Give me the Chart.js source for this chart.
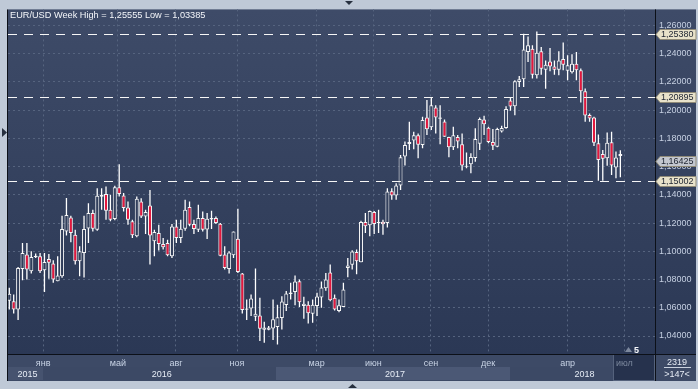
<!DOCTYPE html>
<html>
<head>
<meta charset="utf-8">
<script src="https://cdn.jsdelivr.net/npm/chart.js@4.4.0/dist/chart.umd.min.js"></script>
<style>
  html, body { margin: 0; padding: 0; background: #bfc9d7; }
  canvas { display: block; }
</style>
</head>
<body>
<canvas id="chart" width="698" height="389"></canvas>
<script>
// EUR/USD, недельные свечи (140 шт.)
const opens = [
  1.0650, 1.0647, 1.0588, 1.0875, 1.0977, 1.0859, 1.0958, 1.0965, 1.0866, 1.0946,
  1.0913, 1.0788, 1.0824, 1.1141, 1.1240, 1.1118, 1.0929, 1.0988, 1.1162, 1.1271,
  1.1153, 1.1386, 1.1405, 1.1294, 1.1228, 1.1454, 1.1395, 1.1311, 1.1212, 1.1106,
  1.1353, 1.1247, 1.1325, 1.1071, 1.1129, 1.1052, 1.1059, 1.0965, 1.1176, 1.1094,
  1.1160, 1.1313, 1.1193, 1.1153, 1.1235, 1.1155, 1.1226, 1.1235, 1.1195, 1.0977,
  1.0875, 1.0972, 1.1089, 1.0842, 1.0586, 1.0595, 1.0537, 1.0546, 1.0445, 1.0445,
  1.0454, 1.0464, 1.0527, 1.0619, 1.0697, 1.0711, 1.0788, 1.0612, 1.0621, 1.0558,
  1.0612, 1.0673, 1.0739, 1.0849, 1.0671, 1.0577, 1.0605, 1.0882, 1.0904, 1.0995,
  1.0922, 1.1207, 1.1184, 1.1278, 1.1200, 1.1209, 1.1200, 1.1426, 1.1395, 1.1466,
  1.1671, 1.1760, 1.1784, 1.1821, 1.1753, 1.1948, 1.1878, 1.2019, 1.1939, 1.1920,
  1.1809, 1.1737, 1.1809, 1.1758, 1.1598, 1.1617, 1.1661, 1.1762, 1.1934, 1.1875,
  1.1774, 1.1741, 1.1849, 1.1873, 1.2068, 1.2027, 1.2199, 1.2218, 1.2411, 1.2435,
  1.2246, 1.2416, 1.2286, 1.2345, 1.2308, 1.2286, 1.2362, 1.2278, 1.2268, 1.2329,
  1.2282, 1.2134, 1.1965, 1.1948, 1.1765, 1.1689, 1.1659, 1.1772, 1.1593, 1.1675
];
const highs = [
  1.0741, 1.0694, 1.0889, 1.1059, 1.1059, 1.1000, 1.0984, 1.0988, 1.0988, 1.0981,
  1.0937, 1.0965, 1.1252, 1.1377, 1.1252, 1.1153, 1.1035, 1.1252, 1.1341, 1.1294,
  1.1447, 1.1447, 1.1459, 1.1400, 1.1464, 1.1616, 1.1412, 1.1353, 1.1224, 1.1388,
  1.1376, 1.1294, 1.1435, 1.1153, 1.1188, 1.1094, 1.1082, 1.1193, 1.1224, 1.1224,
  1.1365, 1.1353, 1.1224, 1.1329, 1.1282, 1.1271, 1.1287, 1.1247, 1.1200, 1.1035,
  1.1000, 1.1141, 1.1301, 1.0847, 1.0659, 1.0694, 1.0878, 1.0671, 1.0501, 1.0471,
  1.0659, 1.0621, 1.0682, 1.0718, 1.0777, 1.0828, 1.0800, 1.0678, 1.0647, 1.0659,
  1.0706, 1.0786, 1.0847, 1.0906, 1.0694, 1.0659, 1.0777, 1.0953, 1.1007, 1.1012,
  1.1217, 1.1271, 1.1289, 1.1285, 1.1294, 1.1224, 1.1447, 1.1447, 1.1482, 1.1682,
  1.1777, 1.1918, 1.1847, 1.1835, 1.1953, 1.2071, 1.2089, 1.2035, 1.2035, 1.1934,
  1.1812, 1.1882, 1.1824, 1.1835, 1.1699, 1.1694, 1.1871, 1.1948, 1.1960, 1.1882,
  1.1866, 1.1875, 1.1889, 1.2028, 1.2089, 1.2212, 1.2242, 1.2541, 1.2522, 1.2459,
  1.2556, 1.2447, 1.2352, 1.2440, 1.2352, 1.2416, 1.2478, 1.2388, 1.2395, 1.2412,
  1.2294, 1.2153, 1.1976, 1.1953, 1.1828, 1.1718, 1.1842, 1.1847, 1.1706, 1.1716
];
const lows = [
  1.0588, 1.0560, 1.0513, 1.0795, 1.0800, 1.0842, 1.0953, 1.0847, 1.0711, 1.0805,
  1.0777, 1.0788, 1.0812, 1.1111, 1.1064, 1.0906, 1.0824, 1.0814, 1.1059, 1.1141,
  1.1146, 1.1294, 1.1224, 1.1212, 1.1219, 1.1388, 1.1282, 1.1188, 1.1094, 1.1099,
  1.1235, 1.1122, 1.0906, 1.0965, 1.1005, 1.1012, 1.0965, 1.0953, 1.1059, 1.1059,
  1.1146, 1.1177, 1.1122, 1.1137, 1.1141, 1.1087, 1.1158, 1.1193, 1.0965, 1.0871,
  1.0842, 1.0953, 1.0847, 1.0560, 1.0513, 1.0541, 1.0506, 1.0365, 1.0353, 1.0440,
  1.0372, 1.0339, 1.0447, 1.0577, 1.0659, 1.0617, 1.0605, 1.0522, 1.0489, 1.0494,
  1.0541, 1.0600, 1.0720, 1.0647, 1.0581, 1.0569, 1.0605, 1.0817, 1.0871, 1.0838,
  1.0922, 1.1129, 1.1106, 1.1122, 1.1129, 1.1118, 1.1169, 1.1365, 1.1365, 1.1435,
  1.1607, 1.1718, 1.1722, 1.1659, 1.1729, 1.1824, 1.1859, 1.1835, 1.1759, 1.1812,
  1.1666, 1.1718, 1.1729, 1.1572, 1.1588, 1.1553, 1.1635, 1.1718, 1.1824, 1.1765,
  1.1718, 1.1737, 1.1842, 1.1868, 1.1995, 1.1963, 1.2164, 1.2164, 1.2341, 1.2223,
  1.2223, 1.2251, 1.2152, 1.2275, 1.2251, 1.2246, 1.2282, 1.2212, 1.2259, 1.2212,
  1.2054, 1.1918, 1.1918, 1.1746, 1.1500, 1.1500, 1.1605, 1.1541, 1.1518, 1.1525
];
const closes = [
  1.0700, 1.0588, 1.0882, 1.0988, 1.0871, 1.0960, 1.0969, 1.0859, 1.0925, 1.0918,
  1.0800, 1.0828, 1.1158, 1.1257, 1.1130, 1.0929, 1.1000, 1.1158, 1.1271, 1.1160,
  1.1393, 1.1400, 1.1287, 1.1224, 1.1454, 1.1405, 1.1306, 1.1224, 1.1113, 1.1372,
  1.1247, 1.1278, 1.1111, 1.1136, 1.1052, 1.1028, 1.0972, 1.1176, 1.1094, 1.1160,
  1.1294, 1.1188, 1.1158, 1.1235, 1.1153, 1.1231, 1.1235, 1.1200, 1.0969, 1.0882,
  1.0991, 1.1141, 1.0854, 1.0584, 1.0595, 1.0666, 1.0558, 1.0452, 1.0461, 1.0461,
  1.0518, 1.0532, 1.0645, 1.0701, 1.0708, 1.0786, 1.0640, 1.0628, 1.0562, 1.0621,
  1.0680, 1.0744, 1.0800, 1.0654, 1.0588, 1.0617, 1.0729, 1.0899, 1.0998, 1.0929,
  1.1207, 1.1177, 1.1285, 1.1193, 1.1207, 1.1191, 1.1424, 1.1395, 1.1466, 1.1666,
  1.1753, 1.1774, 1.1821, 1.1755, 1.1929, 1.1864, 1.2035, 1.1948, 1.1948, 1.1812,
  1.1737, 1.1821, 1.1777, 1.1607, 1.1605, 1.1668, 1.1795, 1.1937, 1.1899, 1.1774,
  1.1748, 1.1866, 1.1873, 1.2007, 1.2026, 1.2204, 1.2218, 1.2430, 1.2459, 1.2251,
  1.2407, 1.2293, 1.2322, 1.2308, 1.2286, 1.2352, 1.2322, 1.2318, 1.2329, 1.2282,
  1.2134, 1.1962, 1.1941, 1.1769, 1.1647, 1.1656, 1.1769, 1.1607, 1.1664, 1.1689
];

// ось времени (номер свечи)
const monthIdx = [8.7, 25.7, 38.9, 52.8, 70.9, 83.8, 96.9, 109.9, 128.0, 140.9];
const monthLabels = ['янв', 'май', 'авг', 'ноя', 'мар', 'июн', 'сен', 'дек', 'апр', 'июл'];
const yearLabels = ['2015', '2016', '2017', '2018'];
const yearStartIdx = [0.7, 8.7, 61.7, 114.9];

// ценовая ось
const yTicks = [1.04, 1.06, 1.08, 1.10, 1.12, 1.14, 1.16, 1.18, 1.20, 1.22, 1.24, 1.26];
const levelLines = [1.25380, 1.20895, 1.15002];
const lastPrice = 1.16425;

const titleText = 'EUR/USD Week High = 1,25555 Low = 1,03385';
const barsTotal = '2319';
const barsVisible = '>147<';
const markerText = '5';

const RED = '#e3173d';
const WHITE = '#f6f6f6';
const FONT = "'Liberation Sans', Arial, sans-serif";

const weeks = opens.map((_, i) => i + 1);
const bodies = weeks.map((w, k) => ({ x: w, y: [Math.min(opens[k], closes[k]), Math.max(opens[k], closes[k])] }));
const wicks = weeks.map((w, k) => ({ x: w, y: [lows[k], highs[k]] }));

let gradCache = null;
function plotGradient(chart) {
    const area = chart.chartArea;
    if (!area) return '#36435f';
    if (gradCache && gradCache.top === area.top && gradCache.bottom === area.bottom) return gradCache.g;
    const g = chart.ctx.createLinearGradient(0, area.top, 0, area.bottom);
    g.addColorStop(0, '#3e4b68');
    g.addColorStop(1, '#2b3855');
    gradCache = { top: area.top, bottom: area.bottom, g: g };
    return g;
}

function fmt(v) {
    return v.toFixed(5).replace('.', ',');
}

function drawTag(ctx, y, text, fill) {
    const c = Math.round(y) + 0.5;
    ctx.beginPath();
    ctx.moveTo(656, c);
    ctx.lineTo(660, c - 5);
    ctx.lineTo(696, c - 5);
    ctx.lineTo(696, c + 5);
    ctx.lineTo(660, c + 5);
    ctx.closePath();
    ctx.fillStyle = fill;
    ctx.fill();
    ctx.strokeStyle = '#8f8a78';
    ctx.lineWidth = 1;
    ctx.stroke();
    ctx.fillStyle = '#1d2330';
    ctx.font = '9px ' + FONT;
    ctx.textAlign = 'left';
    ctx.textBaseline = 'middle';
    ctx.fillText(text, 661, c + 0.5);
}

function tri(ctx, pts, color) {
    ctx.beginPath();
    ctx.moveTo(pts[0][0], pts[0][1]);
    ctx.lineTo(pts[1][0], pts[1][1]);
    ctx.lineTo(pts[2][0], pts[2][1]);
    ctx.closePath();
    ctx.fillStyle = color;
    ctx.fill();
}

// фон, панели, подписи
const framePlugin = {
    id: 'frame',
    beforeDraw(chart) {
        const ctx = chart.ctx;
        const a = chart.chartArea;
        const xs = chart.scales.x;
        ctx.save();
        ctx.fillStyle = '#bfc9d7';
        ctx.fillRect(0, 0, chart.width, chart.height);
        // область графика и правая шкала
        ctx.fillStyle = plotGradient(chart);
        ctx.fillRect(a.left, a.top, 696 - a.left, a.bottom - a.top);
        // нижняя панель
        ctx.fillStyle = '#3d4a66';
        ctx.fillRect(a.left, a.bottom, 696 - a.left, 381 - a.bottom);
        // годы
        const yearColors = ['#46536f', '#3c4965', '#4b5875', '#3c4965'];
        yearLabels.forEach((lbl, k) => {
            const x0 = Math.max(a.left, xs.getPixelForValue(yearStartIdx[k]));
            const x1 = k + 1 < yearLabels.length ? xs.getPixelForValue(yearStartIdx[k + 1]) : a.right;
            ctx.fillStyle = yearColors[k];
            ctx.fillRect(Math.round(x0), 367, Math.round(x1) - Math.round(x0), 13);
        });
        // будущий месяц
        const xFut = Math.round(xs.getPixelForValue(monthIdx[monthIdx.length - 1])) - 11;
        ctx.fillStyle = '#26324d';
        ctx.fillRect(xFut, a.bottom, a.right - xFut, 381 - a.bottom);
        ctx.strokeStyle = '#55627c';
        ctx.strokeRect(xFut + 0.5, a.bottom + 0.5, a.right - xFut - 1, 381 - a.bottom - 1);
        ctx.restore();
    },
    afterDatasetsDraw(chart) {
        const ctx = chart.ctx;
        const a = chart.chartArea;
        const ys = chart.scales.y;
        ctx.save();
        ctx.strokeStyle = WHITE;
        ctx.lineWidth = 1;
        ctx.setLineDash([9, 7]);
        levelLines.forEach(v => {
            const y = Math.round(ys.getPixelForValue(v)) + 0.5;
            ctx.beginPath();
            ctx.moveTo(a.left, y);
            ctx.lineTo(a.right, y);
            ctx.stroke();
        });
        ctx.restore();
    },
    afterDraw(chart) {
        const ctx = chart.ctx;
        const a = chart.chartArea;
        const xs = chart.scales.x;
        const ys = chart.scales.y;
        ctx.save();
        // разделители
        ctx.strokeStyle = '#0c1018';
        ctx.lineWidth = 1;
        ctx.beginPath();
        ctx.moveTo(a.left, a.bottom + 0.5);
        ctx.lineTo(696, a.bottom + 0.5);
        ctx.moveTo(a.right + 0.5, a.top);
        ctx.lineTo(a.right + 0.5, 381);
        ctx.moveTo(a.left - 0.5, a.top);
        ctx.lineTo(a.left - 0.5, 381);
        ctx.stroke();

        // ярлыки уровней
        levelLines.forEach(v => drawTag(ctx, ys.getPixelForValue(v), fmt(v), '#e8e2ca'));
        drawTag(ctx, ys.getPixelForValue(lastPrice), fmt(lastPrice), '#c3c7cf');

        // заголовок
        ctx.font = '9.2px ' + FONT;
        ctx.fillStyle = '#f4f6fa';
        ctx.textAlign = 'left';
        ctx.textBaseline = 'alphabetic';
        ctx.fillText(titleText, 10, 18);

        // годы
        ctx.font = '9px ' + FONT;
        ctx.fillStyle = '#e6ecf5';
        ctx.textAlign = 'center';
        yearLabels.forEach((lbl, k) => {
            const x0 = Math.max(a.left, xs.getPixelForValue(yearStartIdx[k]));
            const x1 = k + 1 < yearLabels.length ? xs.getPixelForValue(yearStartIdx[k + 1]) : a.right;
            ctx.fillText(lbl, (x0 + x1) / 2 + 2, 377);
        });

        // счётчик баров
        ctx.fillText(barsTotal, 677, 365);
        ctx.fillText(barsVisible, 677, 377);
        ctx.strokeStyle = '#c9d1de';
        ctx.beginPath();
        ctx.moveTo(664, 367.5);
        ctx.lineTo(691, 367.5);
        ctx.stroke();

        // маркер
        tri(ctx, [[625, 352], [632, 352], [628.5, 347]], '#7d899e');
        ctx.font = 'bold 9px ' + FONT;
        ctx.fillStyle = '#f4f6fa';
        ctx.textAlign = 'left';
        ctx.fillText(markerText, 634, 353);

        // стрелки рамки
        tri(ctx, [[345, 1], [353, 1], [349, 5]], '#27303f');
        tri(ctx, [[348, 388], [357, 388], [352.5, 384]], '#27303f');
        tri(ctx, [[2, 128], [2, 137], [7, 132.5]], '#27303f');
        ctx.restore();
    }
};

Chart.defaults.font.family = FONT;
Chart.defaults.font.size = 9;

new Chart(document.getElementById('chart'), {
    type: 'bar',
    data: {
        datasets: [
            {
                label: 'body',
                data: bodies,
                order: 0,
                grouped: false,
                barThickness: 4,
                borderWidth: 1,
                borderSkipped: false,
                borderColor: WHITE,
                inflateAmount: 0,
                backgroundColor: function(c) {
                    const k = c.dataIndex;
                    if (k === undefined) return RED;
                    return closes[k] < opens[k] ? RED : plotGradient(c.chart);
                }
            },
            {
                label: 'wick',
                data: wicks,
                order: 1,
                grouped: false,
                barThickness: 1.3,
                borderWidth: 0,
                inflateAmount: 0,
                backgroundColor: '#ffffff'
            }
        ]
    },
    options: {
        responsive: false,
        animation: false,
        devicePixelRatio: 1,
        layout: { padding: { left: 8, top: 9, right: 2, bottom: 8 } },
        plugins: {
            legend: { display: false },
            tooltip: { enabled: false }
        },
        scales: {
            x: {
                type: 'linear',
                position: 'bottom',
                offset: false,
                min: 0.704,
                max: 147.88,
                afterBuildTicks: s => { s.ticks = monthIdx.map(v => ({ value: v })); },
                afterFit: s => { s.height = 27; },
                grid: { color: '#56647f', drawTicks: false, offset: false },
                border: { display: false, dash: [2, 3] },
                ticks: {
                    autoSkip: false,
                    maxRotation: 0,
                    minRotation: 0,
                    padding: 4,
                    color: c => c.index === monthLabels.length - 1 ? '#7c889e' : '#c8d3e5',
                    callback: (v, i) => monthLabels[i]
                }
            },
            y: {
                type: 'linear',
                position: 'right',
                min: 1.02726,
                max: 1.27132,
                afterBuildTicks: s => { s.ticks = yTicks.map(v => ({ value: v })); },
                afterFit: s => { s.width = 41; },
                grid: { color: '#56647f', drawTicks: false },
                border: { display: false, dash: [2, 3] },
                ticks: {
                    padding: 4,
                    color: '#c6d0e2',
                    callback: v => fmt(v)
                }
            }
        }
    },
    plugins: [framePlugin]
});
</script>
</body>
</html>
